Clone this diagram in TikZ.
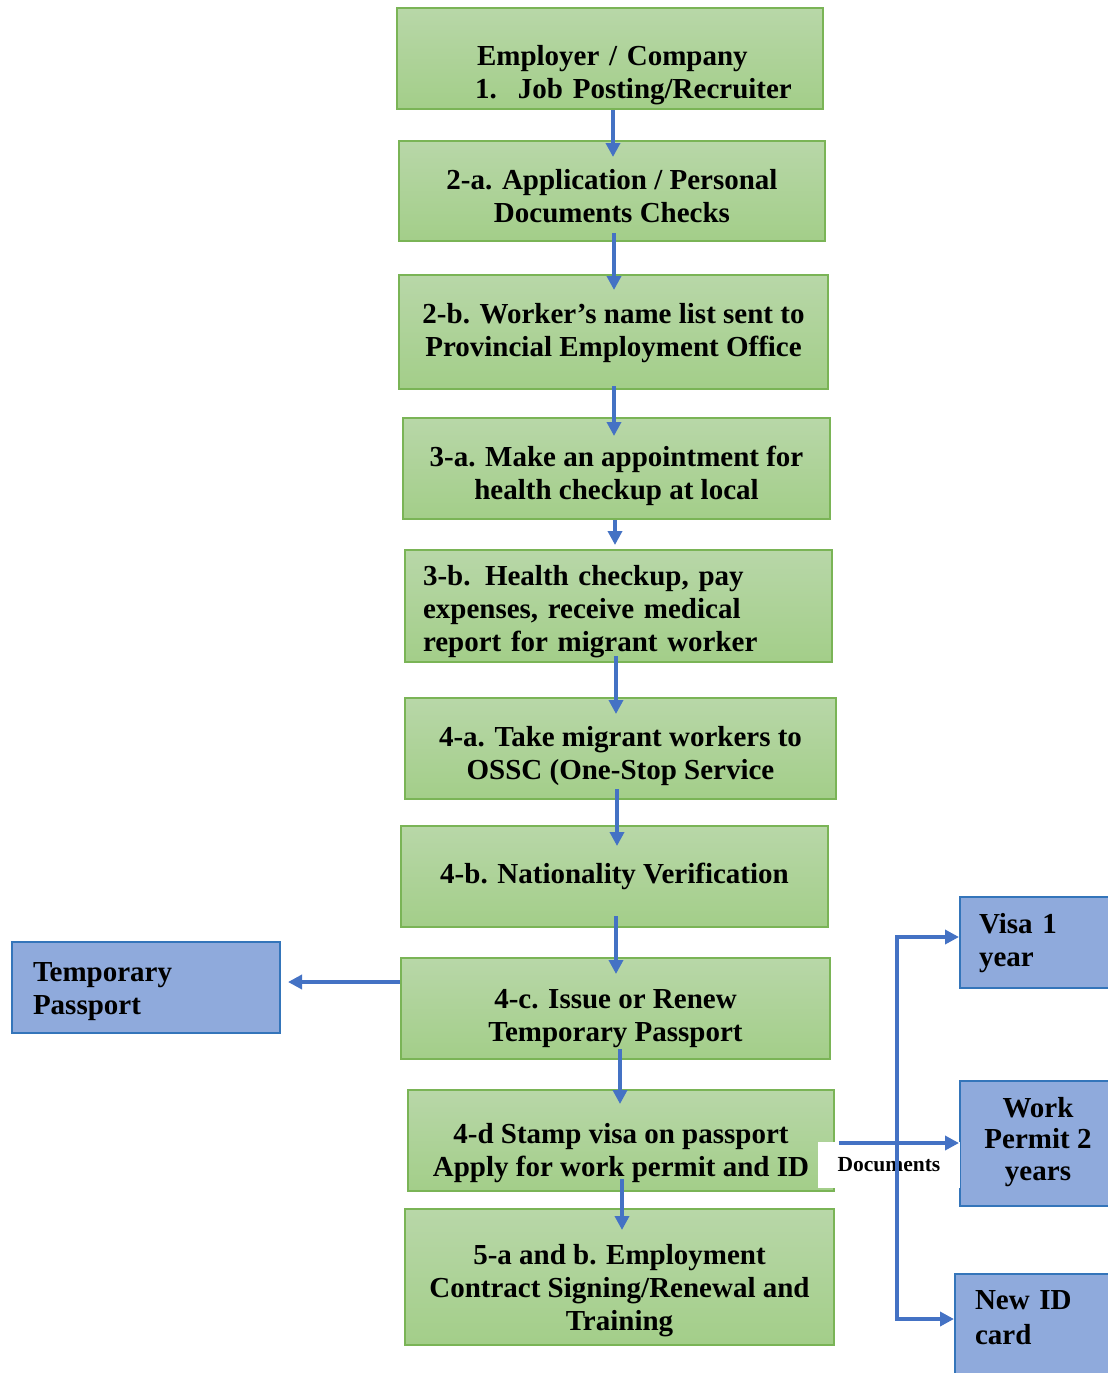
\documentclass[tikz,border=0pt]{standalone}
\usepackage{fontspec}
\setmainfont{Liberation Serif}
\usetikzlibrary{arrows.meta,calc}
\definecolor{gtop}{RGB}{184,215,168}
\definecolor{gbot}{RGB}{163,206,137}
\definecolor{gline}{RGB}{122,180,86}
\definecolor{bfill}{RGB}{143,170,220}
\definecolor{bline}{RGB}{52,117,186}
\definecolor{arrc}{RGB}{68,114,196}
\newcommand{\fs}[1]{\rule{0pt}{#1pt}}
\newcommand{\ls}[1]{\rule[-#1pt]{0pt}{#1pt}}
\begin{document}
\begin{tikzpicture}[x=1pt,y=-1pt,
  txt/.style={font=\fontsize{29}{33}\selectfont\bfseries},
  gbox/.style={txt,draw=gline,line width=2pt,top color=gtop,bottom color=gbot,
    inner sep=0pt,align=center,text=black},
  bbox/.style={txt,draw=bline,line width=2pt,fill=bfill,inner sep=0pt,align=center,text=black},
  arr/.style={draw=arrc,line width=3.5pt,-{Triangle[length=14pt,width=14pt]}},
  doclbl/.style={fill=white,inner sep=0pt,font=\fontsize{21.5}{24}\selectfont\bfseries}]
\useasboundingbox (0,0) rectangle (1108,1373);
\clip (0,0) rectangle (1108,1373);

% main column
\node[gbox,minimum width=426pt,minimum height=101pt,text width=426pt,align=left] (n1) at (610,58.5)
  {\hspace*{80pt}\fs{53}Employer / Company\\\hspace*{78pt}\makebox[43pt][l]{1.}Job Posting/Recruiter\ls{7}};
\node[gbox,minimum width=426pt,minimum height=100pt] (n2) at (612,191)
  {\fs{43}2-a. Application / Personal\\Documents Checks\ls{14}};
\node[gbox,minimum width=429pt,minimum height=114pt] (n3) at (613.5,332)
  {\fs{29}2-b. Worker's name list sent to\\Provincial Employment Office\ls{14}};
\node[gbox,minimum width=427pt,minimum height=101pt] (n4) at (616.5,468.5)
  {\fs{42}3-a. Make an appointment for\\health checkup at local\ls{14}};
\node[gbox,minimum width=427pt,minimum height=112pt,text width=427pt,align=left] (n5) at (618.5,606)
  {\hspace*{18pt}\fs{31}3-b. Health checkup, pay\\\hspace*{18pt}expenses, receive medical\\\hspace*{18pt}report for migrant worker\ls{7}};
\node[gbox,minimum width=431pt,minimum height=101pt] (n6) at (620.5,748.5)
  {\fs{42}4-a. Take migrant workers to\\OSSC (One-Stop Service\ls{14}};
\node[gbox,minimum width=427pt,minimum height=101pt] (n7) at (614.5,876.5)
  {\fs{27}4-b. Nationality Verification\ls{14}};
\node[gbox,minimum width=429pt,minimum height=101pt] (n8) at (615.5,1008.5)
  {\fs{46}4-c. Issue or Renew\\Temporary Passport\ls{14}};
\node[gbox,minimum width=426pt,minimum height=101pt] (n9) at (621,1140.5)
  {\fs{52}4-d Stamp visa on passport\\Apply for work permit and ID\ls{14}};
\node[gbox,minimum width=429pt,minimum height=136pt] (n10) at (619.5,1277)
  {\fs{54}5-a and b. Employment\\Contract Signing/Renewal and\\Training\ls{14}};

% side boxes
\node[bbox,minimum width=268pt,minimum height=91pt,text width=268pt,align=left] (tp) at (146,987.5)
  {\hspace*{21pt}\fs{34}Temporary\\\hspace*{21pt}Passport\ls{14}};
\node[bbox,minimum width=156pt,minimum height=91pt,text width=156pt,align=left] (visa) at (1038,942.5)
  {\hspace*{19pt}\fs{28}Visa 1\\\hspace*{19pt}year\ls{14}};
\node[bbox,minimum width=156pt,minimum height=125pt,font=\fontsize{29}{31.5}\selectfont\bfseries] (wp) at (1038,1143.5)
  {\fs{24}Work\\Permit 2\\years\ls{14}};
\node[bbox,minimum width=161pt,minimum height=116pt,text width=161pt,align=left,font=\fontsize{29}{35}\selectfont\bfseries] (nid) at (1035.5,1332)
  {\hspace*{20pt}\fs{34}New ID\\\hspace*{20pt}card\ls{45}};

\node[doclbl,minimum width=142pt,minimum height=46pt] (doc) at (889,1165) {Documents};

% vertical flow
\draw[arr,shorten >=-17pt] ([xshift=3pt]n1.south) -- ([xshift=3pt]n1.south |- n2.north);
\draw[arr,shorten <=-9pt,shorten >=-16pt] ([xshift=2pt]n2.south) -- ([xshift=2pt]n2.south |- n3.north);
\draw[arr,shorten <=-4pt,shorten >=-19pt] ([xshift=0.5pt]n3.south) -- ([xshift=0.5pt]n3.south |- n4.north);
\draw[arr,shorten >=4pt] ([xshift=-1.5pt]n4.south) -- ([xshift=-1.5pt]n4.south |- n5.north);
\draw[arr,shorten <=-7pt,shorten >=-17pt] ([xshift=-2.5pt]n5.south) -- ([xshift=-2.5pt]n5.south |- n6.north);
\draw[arr,shorten <=-11pt,shorten >=-21pt] ([xshift=-3.5pt]n6.south) -- ([xshift=-3.5pt]n6.south |- n7.north);
\draw[arr,shorten <=-12pt,shorten >=-17pt] ([xshift=1.5pt]n7.south) -- ([xshift=1.5pt]n7.south |- n8.north);
\draw[arr,shorten <=-11pt,shorten >=-15pt] ([xshift=4.5pt]n8.south) -- ([xshift=4.5pt]n8.south |- n9.north);
\draw[arr,shorten <=-13pt,shorten >=-22pt] ([xshift=1pt]n9.south) -- ([xshift=1pt]n9.south |- n10.north);

% side connectors
\draw[arr,shorten >=7pt] ([yshift=26.5pt]n8.west) -- ([yshift=26.5pt]n8.west -| tp.east);
\draw[arr,shorten <=4pt] ([yshift=-2.5pt]n9.east) -- ([yshift=-2.5pt]n9.east -| wp.west);
\coordinate (j) at (897,1143);
\draw[arr] (j) |- ([yshift=5.5pt]visa.west);
\draw[arr] (j) |- ([yshift=13pt]nid.west);
\end{tikzpicture}
\end{document}
